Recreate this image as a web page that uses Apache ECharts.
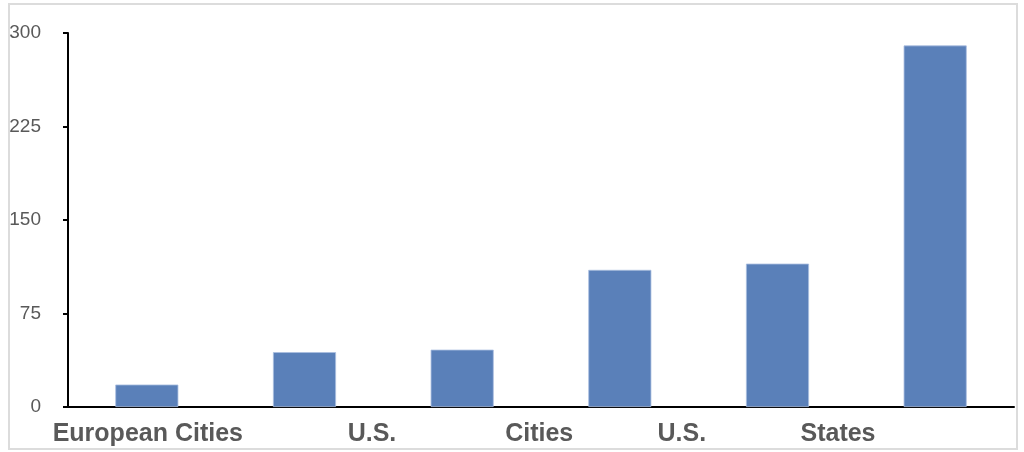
<!DOCTYPE html>
<html lang="en">
  <head>
    <meta charset="UTF-8" />
    <title>City bar chart</title>
    <script src="https://cdn.jsdelivr.net/npm/echarts@6/dist/echarts.min.js"></script>
    <style>
      body { margin: 0; background: #fff; }
      #wrap { position: relative; width: 1024px; height: 452px; }
      #container { width: 1024px; height: 452px; }
      #frame {
        position: absolute; left: 8px; top: 3px; width: 1006px; height: 443px;
        border: 2px solid #dcdcdc; pointer-events: none;
      }
    </style>
  </head>
  <body>
    <div id="wrap">
      <div id="container"></div>
      <div id="frame"></div>
    </div>
    <script>
      // data
      var categories = ['European Cities', 'U.S.', 'Cities', 'U.S.', 'States', '']
      var values = [18, 44, 46, 110, 115, 290]
      var yTicks = [0, 75, 150, 225, 300]

      // label nudges (rich padding, half of it moves the text centre)
      var rich = {
        l0: { padding: [0, 0, 0, 2] },
        l1: { padding: [0, 0, 0, 135] },
        l2: { padding: [0, 0, 0, 154] },
        l3: { padding: [0, 0, 0, 124] },
        l4: { padding: [0, 0, 0, 121] },
        l5: {}
      }

      var myChart = echarts.init(document.querySelector('#container'))
      myChart.setOption({
        animation: false,
        backgroundColor: '#ffffff',
        grid: { left: 68, right: 10, top: 33, bottom: 45 },
        xAxis: {
          type: 'category',
          data: categories,
          axisLine: { lineStyle: { color: '#000', width: 2 } },
          axisTick: { show: false },
          axisLabel: {
            interval: 0,
            margin: 15,
            color: '#595959',
            fontFamily: 'Liberation Sans',
            fontWeight: 'bold',
            fontSize: 25,
            formatter: function (val, idx) {
              return '{l' + idx + '|' + val + '}'
            },
            rich: Object.keys(rich).reduce(function (acc, k) {
              acc[k] = Object.assign({
                color: '#595959',
                fontFamily: 'Liberation Sans',
                fontWeight: 'bold',
                fontSize: 25
              }, rich[k])
              return acc
            }, {})
          }
        },
        yAxis: {
          type: 'value',
          min: yTicks[0],
          max: yTicks[yTicks.length - 1],
          interval: yTicks[1] - yTicks[0],
          axisLine: { show: true, lineStyle: { color: '#000', width: 2 } },
          axisTick: { show: true, length: 5, lineStyle: { color: '#000', width: 2 } },
          splitLine: { show: false },
          axisLabel: {
            margin: 27,
            padding: [7, 0, 0, 0],
            color: '#595959',
            fontFamily: 'Liberation Sans',
            fontSize: 19
          }
        },
        series: [
          {
            type: 'bar',
            data: values,
            barWidth: '40%',
            itemStyle: {
              color: '#5a80b9',
              borderColor: '#a9bedf',
              borderWidth: 0.8
            }
          }
        ]
      })
    </script>
  </body>
</html>
